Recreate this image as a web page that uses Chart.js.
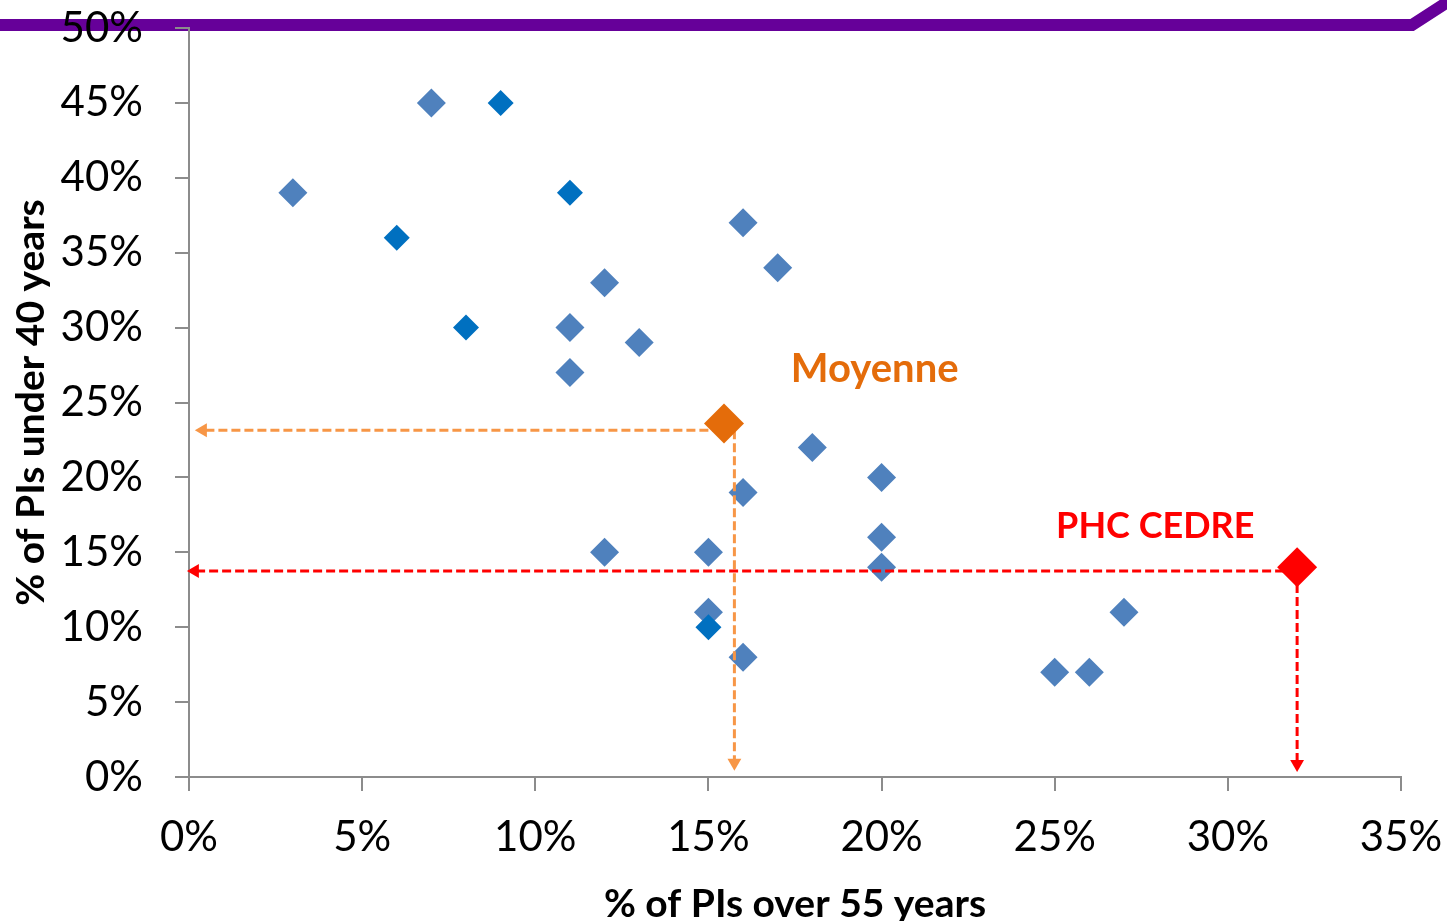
<!DOCTYPE html>
<html>
<head>
<meta charset="utf-8">
<script src="https://cdn.jsdelivr.net/npm/chart.js@4/dist/chart.umd.min.js"></script>
<style>
  html, body { margin: 0; padding: 0; background: #fff; }
  #wrap { position: relative; width: 1447px; height: 921px; overflow: hidden; }
  #deco { position: absolute; left: 0; top: 0; }
  #c { position: absolute; left: 0; top: 0; }
</style>
</head>
<body>
<div id="wrap">
  <svg id="deco" width="1447" height="921">
    <polyline points="0,25 1412,25 1460,-6" fill="none" stroke="#660099" stroke-width="12" stroke-linejoin="miter"/>
  </svg>
  <canvas id="c" width="1447" height="921"></canvas>
</div>
<script>
// institutes, % of PIs over 55 (x) vs % under 40 (y)
const lightX = [3, 7, 12, 11, 13, 11, 16, 17, 18, 20, 16, 20, 20, 12, 15, 15, 16, 25, 26, 27];
const lightY = [39, 45, 33, 30, 29, 27, 37, 34, 22, 20, 19, 16, 14, 15, 15, 11, 8, 7, 7, 11];
const darkX = [9, 6, 11, 8, 15];
const darkY = [45, 36, 39, 30, 10];

// average and PHC CEDRE
const meanPoint = [15.45, 23.6];
const meanGuide = [15.75, 23.15];
const cedrePoint = [32, 14];
const cedreGuide = [32, 13.75];

const xTicks = [0, 5, 10, 15, 20, 25, 30, 35];
const yTicks = [0, 5, 10, 15, 20, 25, 30, 35, 40, 45, 50];

const pts = (xs, ys) => xs.map((x, i) => ({ x: x, y: ys[i] }));

const FONT = 'Lato, "Open Sans", sans-serif';
Chart.defaults.font.family = FONT;
Chart.defaults.color = '#000';

function guide(from, to, color, rot) {
  return {
    data: [{ x: from[0], y: from[1] }, { x: to[0], y: to[1] }],
    showLine: true,
    borderColor: color,
    borderWidth: 3,
    borderDash: [9, 4],
    pointRadius: [0, 8],
    pointStyle: ['circle', 'triangle'],
    pointRotation: [0, rot],
    pointBackgroundColor: color,
    pointBorderWidth: 0,
    clip: false
  };
}

const labelsPlugin = {
  id: 'labels',
  afterDatasetsDraw(chart) {
    const { ctx, scales } = chart;
    ctx.save();
    ctx.textBaseline = 'middle';
    ctx.textAlign = 'left';
    ctx.font = 'bold 40px ' + FONT;
    ctx.fillStyle = '#E46C0A';
    ctx.fillText('Moyenne', scales.x.getPixelForValue(17.38), scales.y.getPixelForValue(27.2));
    ctx.font = 'bold 36px ' + FONT;
    ctx.fillStyle = '#FF0000';
    ctx.fillText('PHC CEDRE', scales.x.getPixelForValue(25.04), scales.y.getPixelForValue(16.7));
    ctx.restore();
  }
};

new Chart(document.getElementById('c'), {
  type: 'scatter',
  data: {
    datasets: [
      { data: [{ x: cedrePoint[0], y: cedrePoint[1] }], pointStyle: 'rectRot', pointRadius: 20,
        backgroundColor: '#FF0000', borderWidth: 0 },
      { data: [{ x: meanPoint[0], y: meanPoint[1] }], pointStyle: 'rectRot', pointRadius: 20,
        backgroundColor: '#E46C0A', borderWidth: 0 },
      guide([cedreGuide[0], cedreGuide[1]], [0.17, cedreGuide[1]], '#FF0000', -90),
      guide([cedreGuide[0], cedreGuide[1]], [cedreGuide[0], 0.87], '#FF0000', 180),
      guide([meanGuide[0], meanGuide[1]], [0.4, meanGuide[1]], '#F79646', -90),
      guide([meanGuide[0], meanGuide[1]], [meanGuide[0], 0.95], '#F79646', 180),
      { data: pts(darkX, darkY), pointStyle: 'rectRot', pointRadius: 13,
        backgroundColor: '#0070C0', borderWidth: 0 },
      { data: pts(lightX, lightY), pointStyle: 'rectRot', pointRadius: 14.5,
        backgroundColor: '#4F81BD', borderWidth: 0 }
    ]
  },
  options: {
    responsive: false,
    animation: false,
    layout: { padding: { top: 28, right: 46, left: 0, bottom: 0 } },
    plugins: { legend: { display: false }, tooltip: { enabled: false } },
    scales: {
      x: {
        min: 0, max: 35,
        afterBuildTicks: s => { s.ticks = xTicks.map(v => ({ value: v })); },
        afterFit: s => { s.height = 144; s.paddingLeft = 0; s.paddingRight = 0; },
        ticks: { callback: v => v + '%', font: { size: 42 }, padding: 21, color: '#000', maxRotation: 0 },
        grid: { drawOnChartArea: false, tickLength: 14, color: '#8c8c8c', lineWidth: 2 },
        border: { color: '#8c8c8c', width: 2 },
        title: { display: true, text: '% of PIs over 55 years', color: '#000',
          font: { size: 39, weight: 'bold', lineHeight: 1 }, padding: { top: 0, bottom: -3 } }
      },
      y: {
        min: 0, max: 50,
        afterBuildTicks: s => { s.ticks = yTicks.map(v => ({ value: v })); },
        afterFit: s => { s.width = 189; s.paddingTop = 0; s.paddingBottom = 0; },
        ticks: { callback: v => v + '%', font: { size: 42 }, padding: 32, color: '#000' },
        grid: { drawOnChartArea: false, tickLength: 14, color: '#8c8c8c', lineWidth: 2 },
        border: { color: '#8c8c8c', width: 2 },
        title: { display: true, text: '% of PIs under 40 years', color: '#000',
          font: { size: 39, weight: 'bold', lineHeight: 1 }, padding: { top: 12, bottom: 0 } }
      }
    }
  },
  plugins: [labelsPlugin]
});
</script>
</body>
</html>
